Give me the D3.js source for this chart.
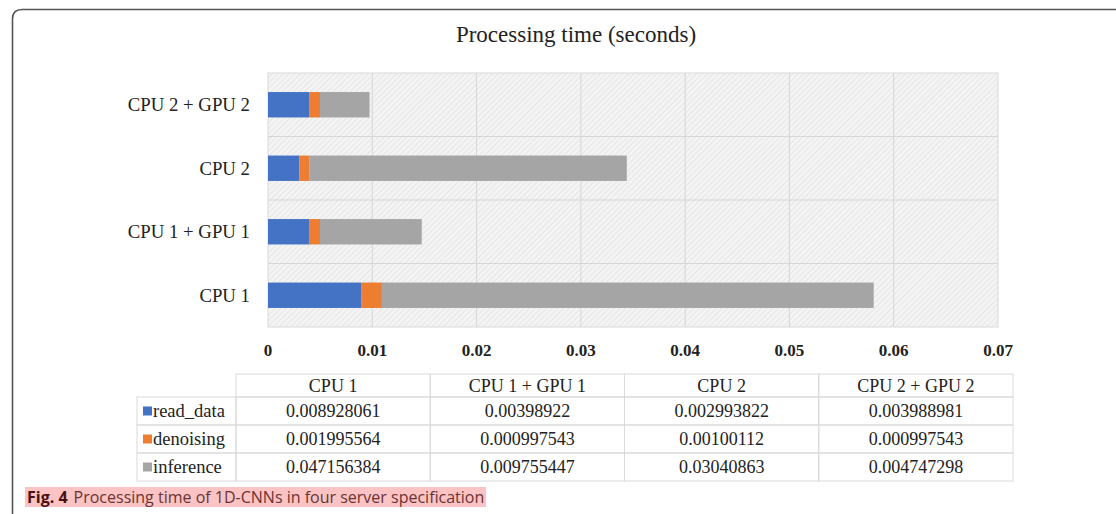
<!DOCTYPE html>
<html>
<head>
<meta charset="utf-8">
<script src="https://cdn.jsdelivr.net/npm/d3@7"></script>
<style>
	body { margin: 0; background: #fff; }
	svg { display: block; }
</style>
</head>
<body>
<svg id="chart" width="1116" height="514"></svg>
<script>
/* chart data */
var servers = ["CPU 1", "CPU 1 + GPU 1", "CPU 2", "CPU 2 + GPU 2"];
var stages = ["read_data", "denoising", "inference"];
var read_data = [0.008928061, 0.00398922, 0.002993822, 0.003988981];
var denoising = [0.001995564, 0.000997543, 0.00100112, 0.000997543];
var inference = [0.047156384, 0.009755447, 0.03040863, 0.004747298];
var x_ticks = [0, 0.01, 0.02, 0.03, 0.04, 0.05, 0.06, 0.07];
var stage_colors = ["#4472c4", "#ed7d31", "#a5a5a5"];

var series_values = [read_data, denoising, inference];

var svg = d3.select("#chart");
var serif = "'Liberation Serif', 'Times New Roman', serif";

var plot = { left: 268, right: 998, top: 73, bottom: 327 };

var x = d3.scaleLinear().domain([0, 0.07]).range([plot.left, plot.right]);

// top of chart = last category
var y = d3.scaleBand().domain(servers.slice().reverse())
	.range([plot.top, plot.bottom]).paddingInner(0.6).paddingOuter(0.3);
var y_rows = d3.scaleBand().domain(servers.slice().reverse())
	.range([plot.top, plot.bottom]);

var table = d3.range(servers.length).map(function(i){
	var row = { server: servers[i] };
	stages.forEach(function(s, j){ row[s] = series_values[j][i]; });
	return row;
});
var stacked = d3.stack().keys(stages)(table);

// hatch pattern for plot area
var defs = svg.append("defs");
var pat = defs.append("pattern")
	.attr("id", "hatch")
	.attr("patternUnits", "userSpaceOnUse")
	.attr("width", 4).attr("height", 4)
	.attr("patternTransform", "rotate(45)");
pat.append("rect").attr("width", 4).attr("height", 4).attr("fill", "#f4f4f4");
pat.append("line").attr("x1", 0).attr("y1", 0).attr("x2", 0).attr("y2", 4)
	.attr("stroke", "#dcdcdc").attr("stroke-width", 1.2);

// figure frame (rounded corner top-left)
svg.append("path")
	.attr("d", "M12.5,514 L12.5,19 Q12.5,9.5 22,9.5 L1116,9.5")
	.attr("fill", "none")
	.attr("stroke", "#555")
	.attr("stroke-width", 1.6);

// title
svg.append("text")
	.attr("x", 576).attr("y", 42)
	.attr("text-anchor", "middle")
	.attr("font-family", serif)
	.attr("font-size", 23)
	.attr("fill", "#222")
	.text("Processing time (seconds)");

// plot area
svg.append("rect")
	.attr("x", plot.left).attr("y", plot.top)
	.attr("width", plot.right - plot.left).attr("height", plot.bottom - plot.top)
	.attr("fill", "url(#hatch)")
	.attr("stroke", "#d9d9d9");

// vertical gridlines
svg.append("g").selectAll("line")
	.data(x_ticks.slice(1, -1))
	.enter().append("line")
	.attr("x1", function(d){ return x(d); })
	.attr("x2", function(d){ return x(d); })
	.attr("y1", plot.top).attr("y2", plot.bottom)
	.attr("stroke", "#d6d6d6");

// horizontal separators between categories
svg.append("g").selectAll("line")
	.data(servers.slice(1))
	.enter().append("line")
	.attr("x1", plot.left).attr("x2", plot.right)
	.attr("y1", function(d){ return y_rows(d) + y_rows.bandwidth(); })
	.attr("y2", function(d){ return y_rows(d) + y_rows.bandwidth(); })
	.attr("stroke", "#d6d6d6");

// bars
svg.append("g").selectAll("g")
	.data(stacked)
	.enter().append("g")
	.attr("fill", function(d, i){ return stage_colors[i]; })
	.selectAll("rect")
	.data(function(d){ return d; })
	.enter().append("rect")
	.attr("x", function(d){ return x(d[0]); })
	.attr("width", function(d){ return x(d[1]) - x(d[0]); })
	.attr("y", function(d){ return y(d.data.server); })
	.attr("height", y.bandwidth());

// category labels
svg.append("g").selectAll("text")
	.data(servers)
	.enter().append("text")
	.attr("x", 250)
	.attr("y", function(d){ return y(d) + y.bandwidth() / 2; })
	.attr("dy", "0.35em")
	.attr("text-anchor", "end")
	.attr("font-family", serif)
	.attr("font-size", 18.8)
	.attr("fill", "#222")
	.text(function(d){ return d; });

// x axis tick labels
svg.append("g").selectAll("text")
	.data(x_ticks)
	.enter().append("text")
	.attr("x", function(d){ return x(d); })
	.attr("y", 356)
	.attr("text-anchor", "middle")
	.attr("font-family", serif)
	.attr("font-weight", "bold")
	.attr("font-size", 17)
	.attr("fill", "#222")
	.text(function(d){ return d === 0 ? "0" : d3.format(".2f")(d); });

// data table
var tbl = { left: 137, col_left: 236, col_w: 194.25, top: 374, head_h: 23, row_h: 28 };
var tg = svg.append("g").attr("font-family", serif).attr("font-size", 18).attr("fill", "#222");

servers.forEach(function(s, i){
	var cx = tbl.col_left + i * tbl.col_w;
	tg.append("rect")
		.attr("x", cx).attr("y", tbl.top)
		.attr("width", tbl.col_w).attr("height", tbl.head_h)
		.attr("fill", "none").attr("stroke", "#dadada");
	tg.append("text")
		.attr("x", cx + tbl.col_w / 2).attr("y", tbl.top + tbl.head_h / 2)
		.attr("dy", "0.35em").attr("text-anchor", "middle")
		.text(s);
});

stages.forEach(function(st, j){
	var ry = tbl.top + tbl.head_h + j * tbl.row_h;
	tg.append("rect")
		.attr("x", tbl.left).attr("y", ry)
		.attr("width", tbl.col_left - tbl.left).attr("height", tbl.row_h)
		.attr("fill", "none").attr("stroke", "#dadada");
	tg.append("rect")
		.attr("x", tbl.left + 6).attr("y", ry + tbl.row_h / 2 - 4.5)
		.attr("width", 9).attr("height", 9)
		.attr("fill", stage_colors[j]);
	tg.append("text")
		.attr("x", tbl.left + 16).attr("y", ry + tbl.row_h / 2)
		.attr("dy", "0.35em")
		.attr("font-size", 18.5)
		.text(st);
	servers.forEach(function(s, i){
		var cx = tbl.col_left + i * tbl.col_w;
		tg.append("rect")
			.attr("x", cx).attr("y", ry)
			.attr("width", tbl.col_w).attr("height", tbl.row_h)
			.attr("fill", "none").attr("stroke", "#dadada");
		tg.append("text")
			.attr("x", cx + tbl.col_w / 2).attr("y", ry + tbl.row_h / 2)
			.attr("dy", "0.35em").attr("text-anchor", "middle")
			.text(String(series_values[j][i]));
	});
});

// caption
svg.append("rect")
	.attr("x", 25).attr("y", 487)
	.attr("width", 461).attr("height", 20)
	.attr("fill", "#fbc3c3");
var cap = svg.append("text")
	.attr("x", 27).attr("y", 502.5)
	.attr("font-family", "'Open Sans', 'Noto Sans', sans-serif")
	.attr("font-size", 16)
	.attr("fill", "#6a3434");
cap.append("tspan").attr("font-weight", "bold").attr("fill", "#4a1010").text("Fig. 4");
cap.append("tspan").attr("dx", 6).text("Processing time of 1D-CNNs in four server specification");
</script>
</body>
</html>
